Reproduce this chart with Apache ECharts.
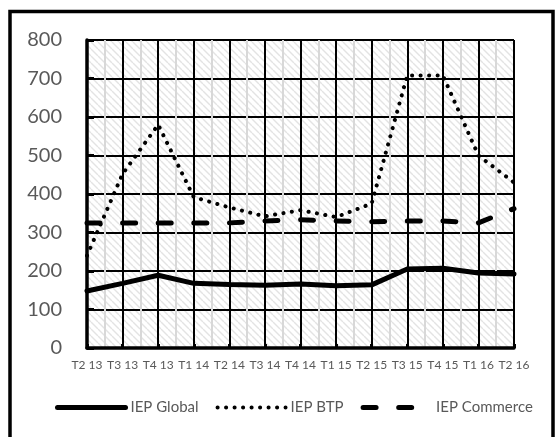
<!DOCTYPE html>
<html>
<head>
<meta charset="utf-8">
<script src="https://cdn.jsdelivr.net/npm/echarts@6/dist/echarts.min.js"></script>
<style>
  html, body { margin: 0; padding: 0; background: #fff; }
  #chart { width: 556px; height: 437px; }
</style>
</head>
<body>
<div id="chart"></div>
<script>
// trimestres
var quarters = ['T2 13', 'T3 13', 'T4 13', 'T1 14', 'T2 14', 'T3 14', 'T4 14', 'T1 15', 'T2 15', 'T3 15', 'T4 15', 'T1 16', 'T2 16'];
var iepGlobal = [148, 168, 189, 168, 165, 163, 166, 162, 164, 205, 207, 195, 192];
var iepBtp = [240, 452, 580, 392, 365, 342, 358, 340, 375, 708, 708, 500, 430];
var iepCommerce = [325, 325, 325, 325, 325, 330, 333, 330, 328, 330, 330, 325, 362];
var yTicks = [0, 100, 200, 300, 400, 500, 600, 700, 800];

// hachures du fond
function hatch() {
  var s = 7;
  var c = document.createElement('canvas');
  c.width = s; c.height = s;
  var ctx = c.getContext('2d');
  ctx.fillStyle = '#ffffff';
  ctx.fillRect(0, 0, s, s);
  ctx.strokeStyle = '#e3e3e3';
  ctx.lineWidth = 1.4;
  [-s, 0, s].forEach(function (x0) {
    ctx.beginPath();
    ctx.moveTo(x0, 0);
    ctx.lineTo(x0 + s, s);
    ctx.stroke();
  });
  return c;
}

function pairs(arr) {
  return arr.map(function (v, i) { return [i, v]; });
}

var myChart = echarts.init(document.getElementById('chart'));
var txt = '#595959';
var font = 'Lato';

var solid = { color: '#000', width: 5, cap: 'round' };
var dotted = { color: '#000', width: 4, type: [0.1, 8.4], cap: 'round' };
var dashed = { color: '#000', width: 5, type: [13, 22.6], cap: 'round' };

var option = {
  backgroundColor: '#ffffff',
  animation: false,
  textStyle: { fontFamily: font },
  graphic: [{
    type: 'rect',
    shape: { x: 10, y: 11.5, width: 543, height: 500 },
    style: { fill: null, stroke: '#000', lineWidth: 3.5 },
    z: 100
  }],
  grid: {
    left: 87, right: 42, top: 40, bottom: 89,
    show: true,
    borderWidth: 0,
    backgroundColor: { image: hatch(), repeat: 'repeat' }
  },
  legend: {
    left: 55, top: 400,
    padding: 0,
    itemWidth: 68, itemHeight: 16,
    itemGap: 17,
    textStyle: { color: txt, fontSize: 15, fontFamily: font },
    data: [
      { name: 'IEP Global', lineStyle: solid, itemStyle: { opacity: 0 } },
      { name: 'IEP BTP', lineStyle: dotted, itemStyle: { opacity: 0 } },
      { name: 'IEP Commerce', lineStyle: dashed, itemStyle: { opacity: 0 } }
    ]
  },
  xAxis: {
    type: 'value',
    min: 0, max: quarters.length - 1, interval: 1,
    axisLine: { show: true, onZero: false, lineStyle: { color: '#000', width: 3.5 } },
    axisTick: { show: true, inside: true, length: 4, lineStyle: { color: '#000', width: 3 } },
    axisLabel: {
      color: txt, fontSize: 12, margin: 11, fontFamily: font,
      showMinLabel: true, showMaxLabel: true,
      formatter: function (v) { return quarters[v]; }
    },
    splitLine: { show: true, lineStyle: { color: '#000', width: 2 } },
    minorTick: { show: false, splitNumber: 2 },
    minorSplitLine: { show: true, lineStyle: { color: '#d8d8d8', width: 2 } }
  },
  yAxis: {
    type: 'value',
    min: yTicks[0], max: yTicks[yTicks.length - 1], interval: 100,
    axisLine: { show: true, lineStyle: { color: '#000', width: 3.5 } },
    axisTick: { show: true, inside: true, length: 7, lineStyle: { color: '#000', width: 3 } },
    axisLabel: { color: txt, fontSize: 20, margin: 25, fontFamily: font },
    splitLine: { show: true, lineStyle: { color: '#000', width: 2 } }
  },
  series: [{
    name: 'IEP Global',
    type: 'line',
    data: pairs(iepGlobal),
    symbol: 'none',
    lineStyle: solid,
    itemStyle: { color: '#000' }
  }, {
    name: 'IEP BTP',
    type: 'line',
    data: pairs(iepBtp),
    symbol: 'none',
    lineStyle: dotted,
    itemStyle: { color: '#000' }
  }, {
    name: 'IEP Commerce',
    type: 'line',
    data: pairs(iepCommerce),
    symbol: 'none',
    lineStyle: dashed,
    itemStyle: { color: '#000' }
  }]
};
myChart.setOption(option);
</script>
</body>
</html>
